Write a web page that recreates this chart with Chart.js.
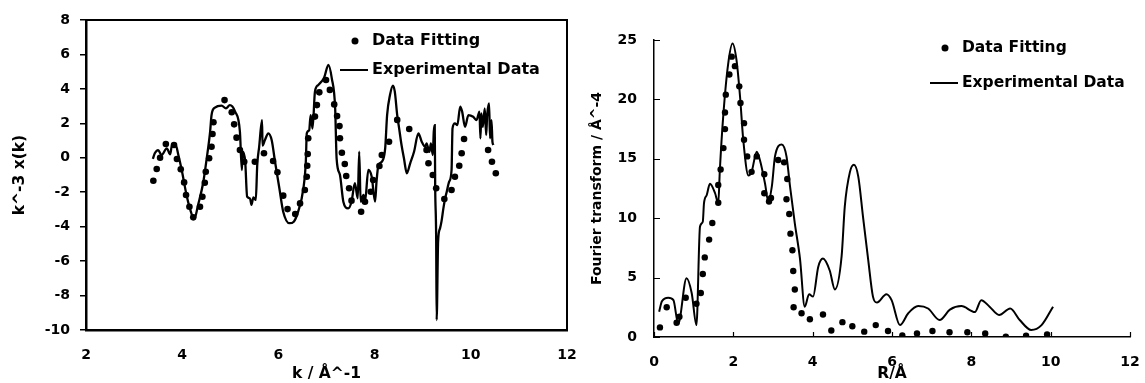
<!DOCTYPE html>
<html><head><meta charset="utf-8">
<script src="https://cdn.jsdelivr.net/npm/chart.js@4.4.0/dist/chart.umd.min.js"></script>
<style>
html,body{margin:0;padding:0;background:#fff;width:1145px;height:383px;overflow:hidden}
#c1{position:absolute;left:0;top:0}
#c2{position:absolute;left:580px;top:0}
</style></head><body>
<canvas id="c1" width="580" height="383"></canvas>
<canvas id="c2" width="565" height="383"></canvas>
<script>
// ---- Left chart: k-space ----
const kExp = [3.39,3.43,3.50,3.57,3.68,3.75,3.79,3.86,3.92,3.99,4.09,4.16,4.25,4.33,4.44,4.51,4.58,4.61,4.68,4.82,4.91,4.99,5.10,5.20,5.24,5.26,5.31,5.35,5.41,5.44,5.48,5.53,5.56,5.60,5.66,5.67,5.72,5.79,5.86,5.93,6.02,6.10,6.23,6.32,6.41,6.52,6.57,6.59,6.64,6.67,6.71,6.76,6.83,6.95,7.04,7.11,7.18,7.21,7.28,7.35,7.45,7.52,7.59,7.65,7.68,7.71,7.77,7.80,7.87,7.94,8.01,8.04,8.08,8.15,8.22,8.26,8.32,8.38,8.42,8.47,8.51,8.56,8.61,8.67,8.74,8.82,8.91,8.98,9.05,9.08,9.14,9.17,9.21,9.23,9.25,9.26,9.28,9.29,9.32,9.36,9.39,9.43,9.46,9.50,9.55,9.60,9.62,9.67,9.72,9.78,9.82,9.88,9.95,10.05,10.12,10.18,10.20,10.22,10.25,10.29,10.32,10.34,10.38,10.40,10.43,10.45,10.47];
const chiExp = [-0.07,0.26,0.45,0.16,0.55,0.20,0.78,0.78,0.16,-0.71,-2.16,-2.94,-3.56,-2.74,-1.39,-0.03,1.51,2.48,2.91,3.03,2.87,3.06,2.68,1.51,-0.71,0.35,-0.23,-2.26,-2.36,-2.74,-2.30,-2.45,-0.42,0.64,2.19,0.70,1.03,1.42,1.03,-0.23,-1.77,-3.13,-3.80,-3.71,-3.13,-1.77,-0.23,1.42,1.60,2.48,1.70,3.84,4.23,4.65,5.39,4.61,2.87,-0.03,-1.00,-2.55,-2.94,-2.55,-1.48,-2.36,0.35,-2.55,-2.16,-2.55,-0.71,-1.10,-2.55,-1.39,-0.42,-0.23,0.55,2.48,3.64,4.19,3.84,2.48,1.71,0.74,-0.03,-0.90,-0.32,0.35,1.42,0.93,0.64,0.84,0.35,0.84,0.16,1.51,1.90,-1.77,-4.68,-9.42,-4.87,-4.10,-3.71,-2.94,-2.45,-1.97,-1.39,-0.71,1.71,2.00,1.90,2.97,2.68,1.80,2.48,2.38,2.19,2.68,1.13,2.58,1.80,2.87,1.32,2.48,3.16,1.13,2.19,0.93,0.74];
const kFit = [3.40,3.47,3.54,3.66,3.83,3.89,3.97,4.04,4.08,4.15,4.23,4.37,4.42,4.47,4.49,4.56,4.61,4.63,4.65,4.88,5.03,5.08,5.13,5.20,5.29,5.51,5.70,5.89,5.98,6.10,6.19,6.35,6.45,6.55,6.59,6.60,6.61,6.62,6.76,6.80,6.85,6.99,7.07,7.16,7.22,7.27,7.28,7.32,7.38,7.41,7.47,7.52,7.72,7.80,7.92,7.97,8.10,8.15,8.30,8.47,8.72,9.08,9.12,9.21,9.28,9.45,9.60,9.67,9.76,9.81,9.86,10.36,10.44,10.52];
const chiFit = [-1.33,-0.65,0.00,0.80,0.74,-0.07,-0.67,-1.43,-2.16,-2.84,-3.46,-2.84,-2.26,-1.45,-0.81,-0.03,0.64,1.38,2.06,3.35,2.64,1.94,1.17,0.45,-0.23,-0.23,0.26,-0.19,-0.84,-2.20,-2.98,-3.27,-2.65,-1.87,-1.10,-0.46,0.22,1.13,2.39,3.06,3.80,4.52,3.94,3.10,2.42,1.84,1.13,0.29,-0.36,-1.06,-1.77,-2.49,-3.13,-2.55,-1.97,-1.29,-0.48,0.16,0.93,2.20,1.67,0.45,-0.32,-1.00,-1.77,-2.39,-1.87,-1.10,-0.46,0.26,1.09,0.45,-0.23,-0.90];
const kTicks = [2,4,6,8,10,12];
const chiTicks = [-10,-8,-6,-4,-2,0,2,4,6,8];

// ---- Right chart: R-space ----
const rExp = [0.13,0.20,0.36,0.49,0.61,0.82,0.95,1.07,1.16,1.23,1.26,1.33,1.41,1.54,1.62,1.66,1.75,1.87,1.98,2.08,2.17,2.25,2.38,2.46,2.59,2.67,2.80,2.88,2.97,3.05,3.22,3.34,3.43,3.55,3.68,3.80,3.91,4.01,4.14,4.26,4.43,4.56,4.73,4.81,4.94,5.04,5.15,5.27,5.40,5.52,5.62,5.86,5.99,6.20,6.41,6.66,6.91,7.20,7.46,7.75,8.09,8.25,8.46,8.70,8.98,9.22,9.51,9.77,10.06];
const ftExp = [2.13,3.0,3.3,3.1,1.1,4.94,3.7,1.0,9.3,9.7,11.25,11.95,12.9,12.1,11.25,14.06,18.8,23.0,24.7,23.3,20.2,16.6,13.6,13.9,15.6,14.9,12.9,11.4,12.65,15.2,16.2,15.2,12.65,9.57,6.6,2.55,3.6,3.4,5.9,6.6,5.6,4.0,6.8,11.0,13.9,14.5,13.5,10.1,6.5,3.4,2.9,3.6,3.1,1.0,2.0,2.6,2.4,1.43,2.3,2.6,2.1,3.1,2.55,1.85,2.4,1.43,0.59,1.0,2.55];
const rFit = [0.15,0.32,0.57,0.64,0.80,1.07,1.18,1.23,1.28,1.39,1.47,1.62,1.62,1.68,1.75,1.79,1.79,1.81,1.90,1.96,2.04,2.15,2.18,2.27,2.27,2.35,2.46,2.59,2.78,2.78,2.90,2.95,3.13,3.28,3.36,3.34,3.41,3.44,3.49,3.51,3.55,3.52,3.72,3.93,4.26,4.47,4.75,5.00,5.30,5.59,5.90,6.26,6.63,7.02,7.45,7.90,8.35,8.87,9.38,9.91];
const ftFit = [0.81,2.5,1.2,1.7,3.3,2.8,3.7,5.3,6.7,8.2,9.6,11.3,12.8,14.1,15.9,17.5,18.9,20.4,22.1,23.6,22.8,21.1,19.7,18.0,16.6,15.2,13.9,15.2,13.7,12.1,11.4,11.7,14.9,14.7,13.3,11.6,10.35,8.7,7.3,5.56,4.0,2.5,2.0,1.5,1.9,0.55,1.25,0.9,0.45,1.0,0.5,0.12,0.3,0.5,0.4,0.4,0.3,0.03,0.1,0.22];
const rTicks = [0,2,4,6,8,10,12];
const ftTicks = [0,5,10,15,20,25];

const seriesNames = ['Data Fitting', 'Experimental Data'];
const leftTitles = ['k / Å^-1', 'k^-3 x(k)'];
const rightTitles = ['R/Å', 'Fourier transform / Å^-4'];

const FONT = '"DejaVu Sans", sans-serif';
const pts = (xs, ys) => xs.map((x, i) => ({x: x, y: ys[i]}));

function legendPlugin(p) {
  return {
    id: 'customLegend',
    afterDraw(chart) {
      const ctx = chart.ctx;
      ctx.save();
      ctx.fillStyle = '#000';
      ctx.strokeStyle = '#000';
      ctx.font = 'bold ' + p.size + 'px ' + FONT;
      ctx.textBaseline = 'middle';
      ctx.textAlign = 'left';
      ctx.beginPath();
      ctx.arc(p.dotX, p.y1, 3.5, 0, Math.PI * 2);
      ctx.fill();
      ctx.fillText(chart.data.datasets[0].label, p.textX, p.y1);
      ctx.lineWidth = 2;
      ctx.beginPath();
      ctx.moveTo(p.lineX1, p.y2);
      ctx.lineTo(p.lineX2, p.y2);
      ctx.stroke();
      ctx.fillText(chart.data.datasets[1].label, p.textX, p.y2);
      ctx.restore();
    }
  };
}
const boxPlugin = {
  id: 'box',
  afterDatasetsDraw(chart) {
    const {ctx, chartArea: a} = chart;
    ctx.save();
    ctx.strokeStyle = '#000';
    ctx.lineWidth = 2;
    ctx.beginPath();
    ctx.moveTo(a.left, a.top);
    ctx.lineTo(a.right, a.top);
    ctx.lineTo(a.right, a.bottom);
    ctx.stroke();
    ctx.restore();
  }
};
// inward-pointing tick marks at the library's own tick positions
const innerTicks = {
  id: 'innerTicks',
  afterDraw(chart) {
    const {ctx, chartArea: a, scales} = chart;
    ctx.save();
    ctx.strokeStyle = '#000';
    ctx.lineWidth = 1.2;
    ctx.beginPath();
    scales.x.ticks.forEach(t => {
      const px = Math.round(scales.x.getPixelForValue(t.value)) + 0.5;
      ctx.moveTo(px, a.bottom);
      ctx.lineTo(px, a.bottom - 5);
    });
    scales.y.ticks.forEach(t => {
      const py = Math.round(scales.y.getPixelForValue(t.value)) + 0.5;
      ctx.moveTo(a.left, py);
      ctx.lineTo(a.left + 6, py);
    });
    ctx.stroke();
    ctx.restore();
  }
};

function tickFont(sz) { return {family: FONT, size: sz, weight: 'bold'}; }
function setTicks(arr) { return function(scale) { scale.ticks = arr.map(v => ({value: v})); }; }
function fixX(h) { return function(s) { s.height = h; s.paddingLeft = 0; s.paddingRight = 0; }; }
function fixY(w) { return function(s) { s.width = w; s.paddingTop = 0; s.paddingBottom = 0; }; }

// Left chart
new Chart(document.getElementById('c1'), {
  type: 'scatter',
  data: {
    datasets: [
      {label: seriesNames[0], data: pts(kFit, chiFit), showLine: false, pointRadius: 3.3, pointBackgroundColor: '#000', pointBorderWidth: 0, order: 0},
      {label: seriesNames[1], data: pts(kExp, chiExp), showLine: true, borderColor: '#000', borderWidth: 2.3, pointRadius: 0, cubicInterpolationMode: 'monotone', order: 1}
    ]
  },
  options: {
    responsive: false, animation: false, devicePixelRatio: 1,
    layout: {padding: {top: 20, right: 13, left: 0, bottom: 0}},
    plugins: {legend: {display: false}, tooltip: {enabled: false}},
    scales: {
      x: {
        type: 'linear', min: kTicks[0], max: kTicks[kTicks.length - 1],
        afterBuildTicks: setTicks(kTicks),
        afterFit: fixX(53),
        grid: {display: false, drawTicks: false},
        border: {display: true, color: '#000', width: 2.5},
        ticks: {color: '#000', font: tickFont(14), padding: 17, maxRotation: 0},
        title: {display: true, text: leftTitles[0], color: '#000', font: tickFont(15.5), padding: {top: 0, bottom: 0}}
      },
      y: {
        type: 'linear', min: chiTicks[0], max: chiTicks[chiTicks.length - 1],
        afterBuildTicks: setTicks(chiTicks),
        afterFit: fixY(86),
        grid: {display: true, drawOnChartArea: false, color: '#000', lineWidth: 1.5, tickLength: 6},
        border: {display: true, color: '#000', width: 2.5},
        ticks: {color: '#000', font: tickFont(14), padding: 10},
        title: {display: true, text: leftTitles[1], color: '#000', font: tickFont(15.5), padding: {top: 11, bottom: 0}}
      }
    }
  },
  plugins: [boxPlugin, legendPlugin({dotX: 355, textX: 372, y1: 41, y2: 70, lineX1: 340, lineX2: 368, size: 16})]
});

// Right chart
new Chart(document.getElementById('c2'), {
  type: 'scatter',
  data: {
    datasets: [
      {label: seriesNames[0], data: pts(rFit, ftFit), showLine: false, pointRadius: 3.2, pointBackgroundColor: '#000', pointBorderWidth: 0, order: 0},
      {label: seriesNames[1], data: pts(rExp, ftExp), showLine: true, borderColor: '#000', borderWidth: 2, pointRadius: 0, cubicInterpolationMode: 'monotone', order: 1}
    ]
  },
  options: {
    responsive: false, animation: false, devicePixelRatio: 1,
    layout: {padding: {top: 40, right: 15, left: 0, bottom: 0}},
    plugins: {legend: {display: false}, tooltip: {enabled: false}},
    scales: {
      x: {
        type: 'linear', min: rTicks[0], max: rTicks[rTicks.length - 1],
        afterBuildTicks: setTicks(rTicks),
        afterFit: fixX(46),
        grid: {display: false, drawTicks: false},
        border: {display: true, color: '#000', width: 1.5},
        ticks: {color: '#000', font: tickFont(14), padding: 17, maxRotation: 0},
        title: {display: true, text: rightTitles[0], color: '#000', font: tickFont(15.5), padding: {top: 0, bottom: 0}}
      },
      y: {
        type: 'linear', min: ftTicks[0], max: ftTicks[ftTicks.length - 1],
        afterBuildTicks: setTicks(ftTicks),
        afterFit: fixY(74),
        grid: {display: false, drawTicks: false},
        border: {display: true, color: '#000', width: 1.5},
        ticks: {color: '#000', font: tickFont(14), padding: 17},
        title: {display: true, text: rightTitles[1], color: '#000', font: tickFont(14), padding: {top: 9, bottom: 0}}
      }
    }
  },
  plugins: [innerTicks, legendPlugin({dotX: 365, textX: 382, y1: 48, y2: 83, lineX1: 350, lineX2: 378, size: 15.5})]
});
</script>
</body></html>
